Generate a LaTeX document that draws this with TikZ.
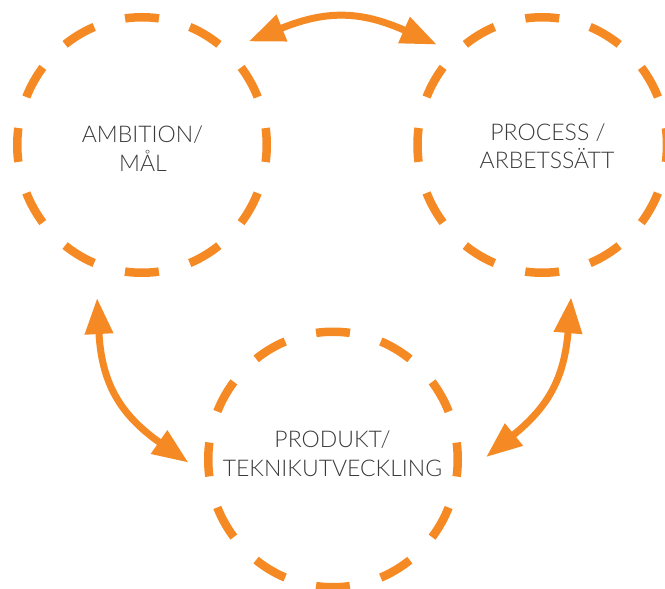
\documentclass[tikz,border=0pt]{standalone}
\usepackage{fontspec}
\setmainfont{Lato Light}
\usetikzlibrary{shapes.geometric,arrows.meta}
\definecolor{org}{HTML}{F58A25}
\definecolor{txt}{HTML}{3A3A3A}
\begin{document}
\begin{tikzpicture}[x=1pt,y=-1pt,
  ring/.style={ellipse, draw=org, line width=8.5pt, minimum width=249.5pt, minimum height=255.5pt,
    inner sep=0pt, dash pattern=on 34pt off 32.107pt, dash phase=17pt},
  lab/.style={anchor=base, inner sep=0pt, font=\fontsize{23}{29}\selectfont, text=txt},
  link/.style={draw=org, line width=7pt,
    {Triangle[length=36pt,width=27pt]}-{Triangle[length=36pt,width=27pt]},
    shorten <=-36pt, shorten >=-36pt}]
\useasboundingbox (0,0) rectangle (665,589);
\node[ring] (A) at (142,145) {};
\node[ring] (P) at (542.25,145) {};
\node[ring] (D) at (333,459.5) {};
\node[lab] (A1) at (142.5,142) {AMBITION/};
\node[lab] (A2) at (143,171) {MÅL};
\node[lab] (P1) at (548,140) {PROCESS /};
\node[lab] (P2) at (547,168) {ARBETSSÄTT};
\node[lab] (D1) at (332.5,447) {PRODUKT/};
\node[lab] (D2) at (332.5,476) {TEKNIKUTVECKLING};
\coordinate (t1) at (282,28);
\coordinate (t2) at (404,30);
\coordinate (l1) at (99,334);
\coordinate (l2) at (159,442);
\coordinate (r1) at (568,333);
\coordinate (r2) at (514,434.5);
\draw[link] (t1) to[bend left=23] (t2);
\draw[link] (l1) to[bend right=26] (l2);
\draw[link] (r1) to[bend left=23] (r2);
\end{tikzpicture}
\end{document}
